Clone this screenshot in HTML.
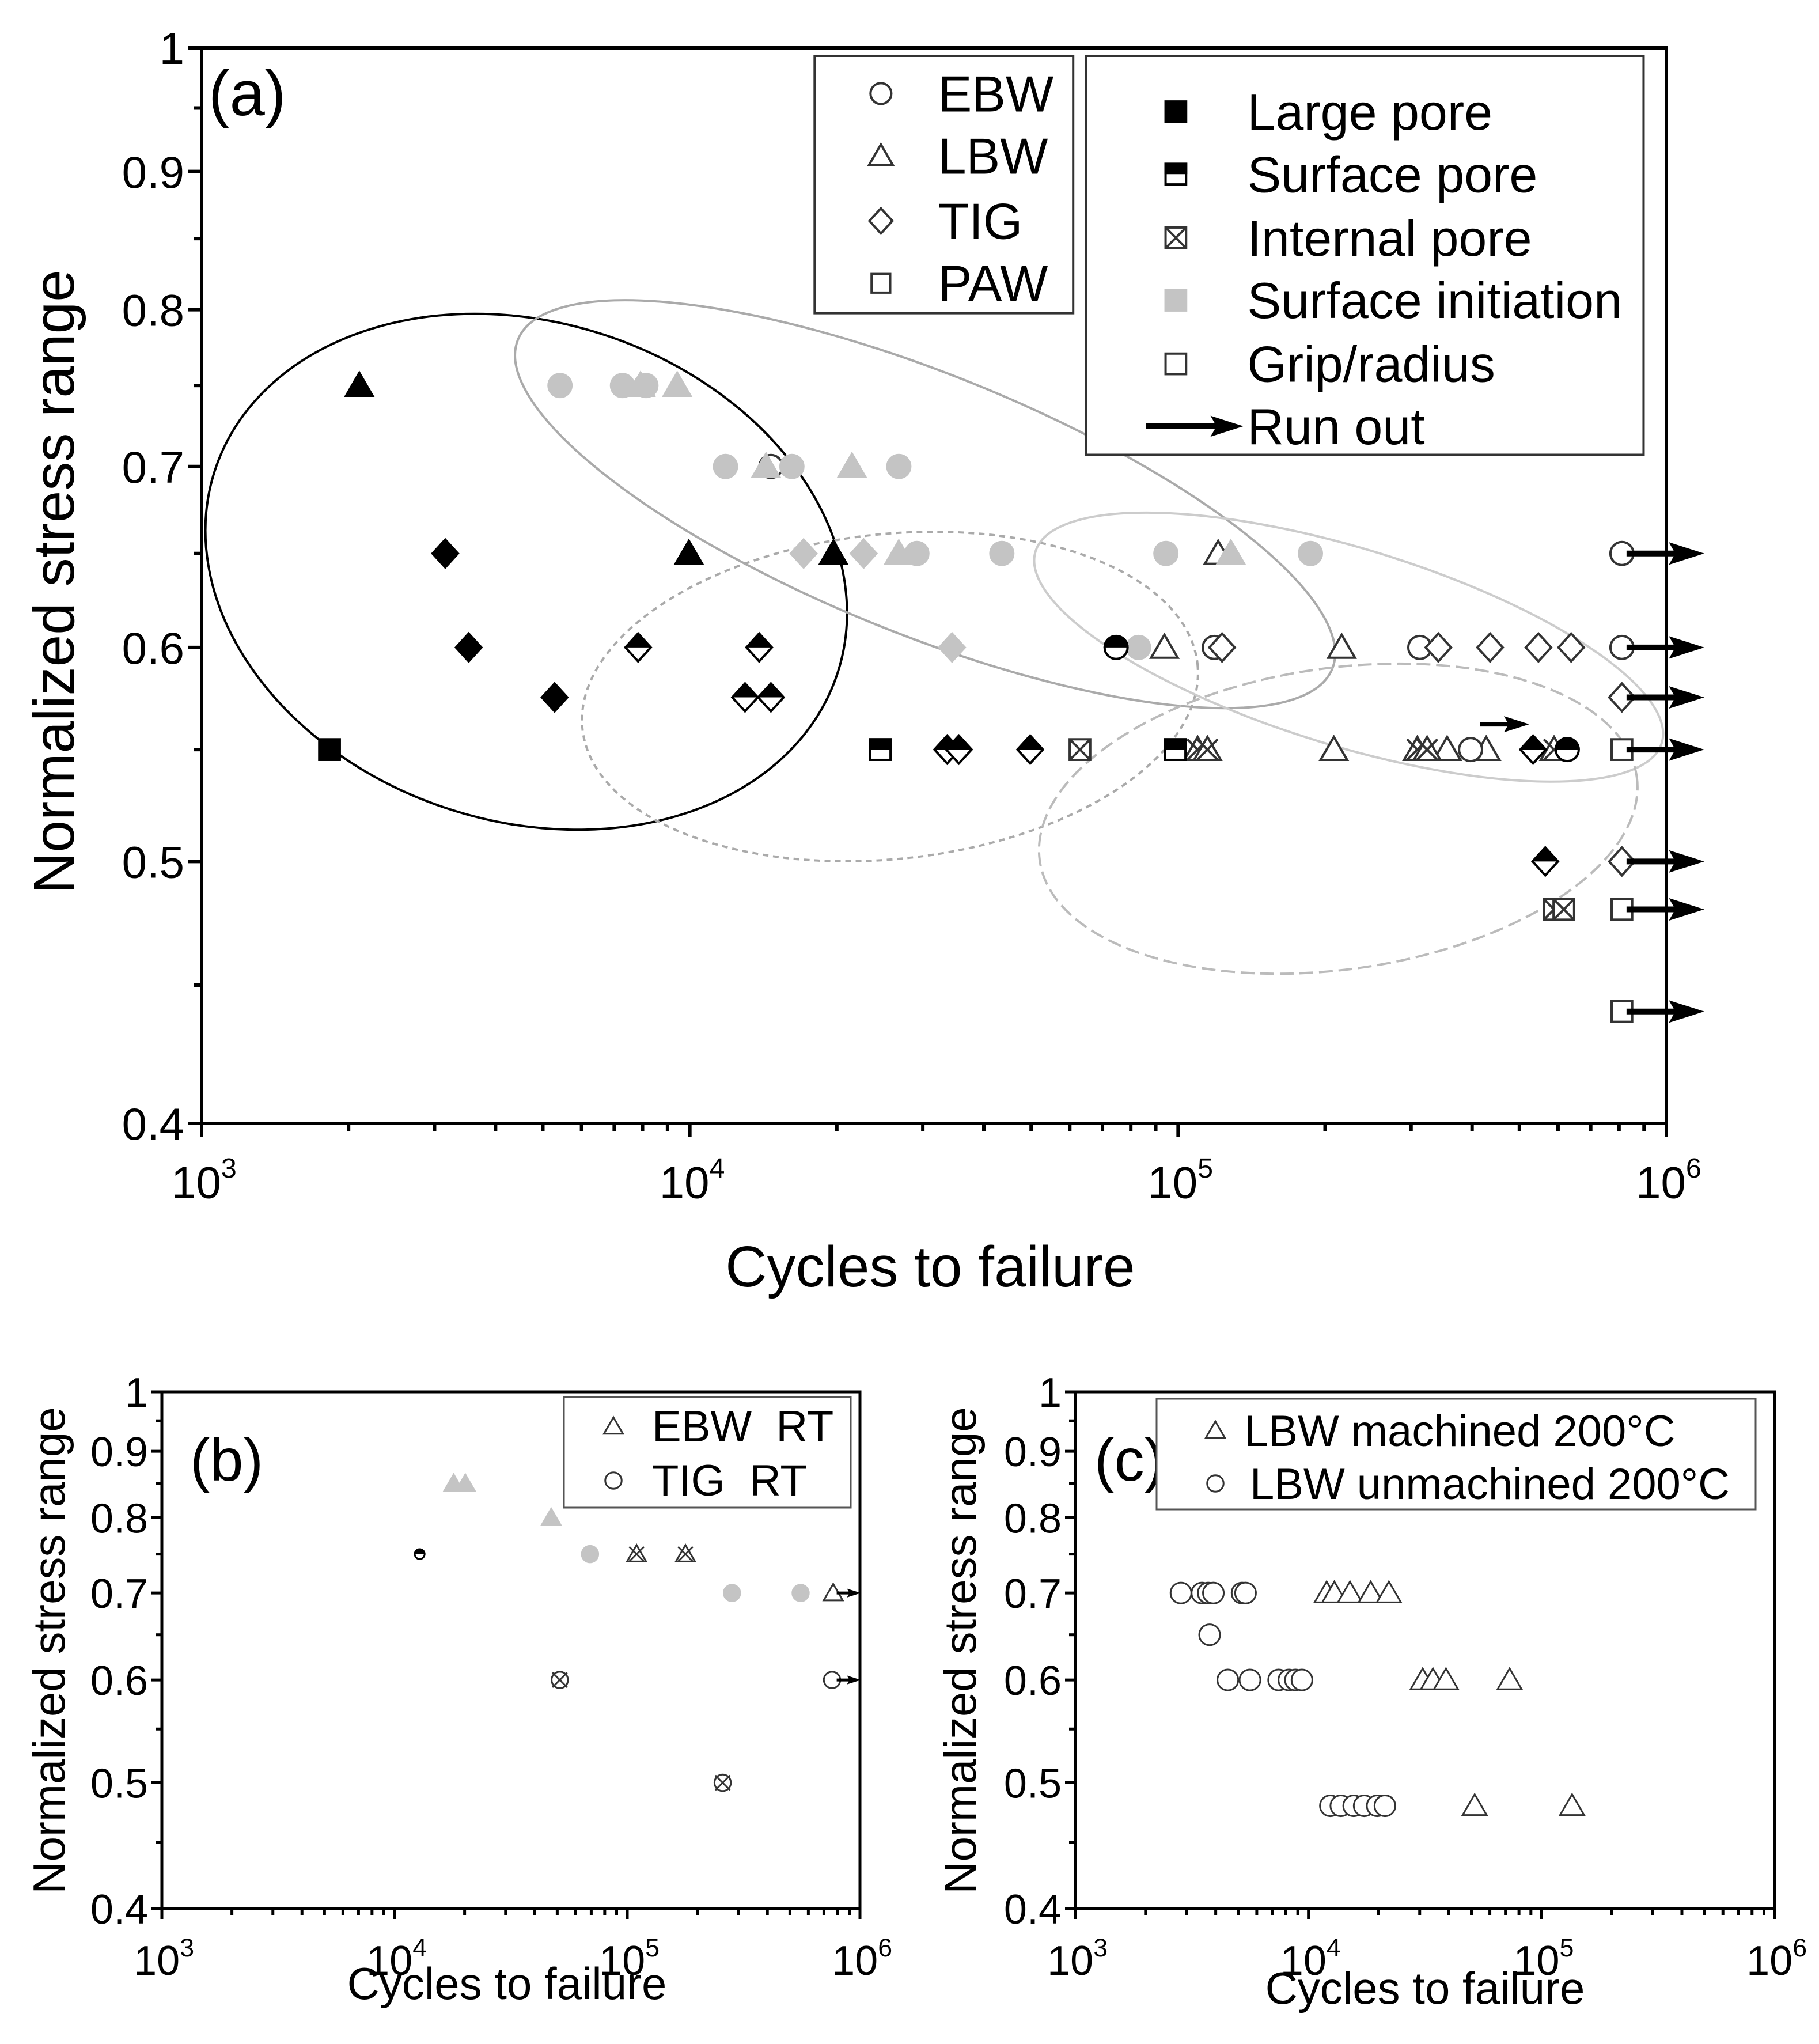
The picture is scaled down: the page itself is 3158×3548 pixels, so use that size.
<!DOCTYPE html>
<html><head><meta charset="utf-8"><style>
html,body{margin:0;padding:0;background:#fff}
svg{display:block}
text{font-family:"Liberation Sans",Arial,sans-serif;fill:#000}
</style></head><body>
<svg id="fig" width="3158" height="3548" viewBox="0 0 3158 3548" xmlns="http://www.w3.org/2000/svg">
<g id="ga"></g>
<g id="gb"></g>
<g id="gc"></g>
</svg>
<script>
// ---- Panel (a) data: [log10(N), stress, shape] ----
const aLargePore = [[3.323,0.75,'tri'],[3.499,0.65,'dia'],[3.547,0.6,'dia'],[3.723,0.575,'dia'],[3.262,0.55,'sq'],[3.998,0.65,'tri'],[4.294,0.65,'tri']];
const aSurfacePore = [[3.894,0.6,'dia'],[4.142,0.6,'dia'],[4.113,0.575,'dia'],[4.166,0.575,'dia'],[4.39,0.55,'sq'],[4.527,0.55,'dia'],[4.551,0.55,'dia'],[4.697,0.55,'dia'],[4.994,0.55,'sq'],[4.873,0.6,'circ'],[5.727,0.55,'dia'],[5.752,0.5,'dia'],[5.797,0.55,'circ']];
const aInternalPore = [[4.799,0.55,'sq'],[5.04,0.55,'tri'],[5.06,0.55,'tri'],[5.49,0.55,'tri'],[5.51,0.55,'tri'],[5.77,0.55,'tri'],[5.77,0.48,'sq'],[5.79,0.48,'sq']];
const aSurfaceInit = [[3.734,0.75,'circ'],[3.862,0.75,'circ'],[3.91,0.75,'circ'],[3.899,0.75,'tri'],[3.974,0.75,'tri'],[4.073,0.7,'circ'],[4.209,0.7,'circ'],[4.428,0.7,'circ'],[4.156,0.7,'tri'],[4.332,0.7,'tri'],[4.233,0.65,'dia'],[4.356,0.65,'dia'],[4.428,0.65,'tri'],[4.465,0.65,'circ'],[4.639,0.65,'circ'],[4.975,0.65,'circ'],[5.271,0.65,'circ'],[5.108,0.65,'tri'],[4.537,0.6,'dia'],[4.919,0.6,'circ']];
const aGrip = [[4.166,0.7,'circ'],[5.082,0.65,'tri'],[4.972,0.6,'tri'],[5.074,0.6,'circ'],[5.09,0.6,'dia'],[5.335,0.6,'tri'],[5.495,0.6,'circ'],[5.533,0.6,'dia'],[5.639,0.6,'dia'],[5.738,0.6,'dia'],[5.805,0.6,'dia'],[5.909,0.6,'circ'],[5.909,0.65,'circ'],[5.319,0.55,'tri'],[5.551,0.55,'tri'],[5.631,0.55,'tri'],[5.599,0.55,'circ'],[5.909,0.575,'dia'],[5.909,0.55,'sq'],[5.909,0.5,'dia'],[5.909,0.48,'sq'],[5.909,0.44,'sq']];
const aRunout = [0.65,0.6,0.575,0.55,0.5,0.48,0.44];
const yTicks = [0.4,0.5,0.6,0.7,0.8,0.9,1];
const yTickLabels = ['0.4','0.5','0.6','0.7','0.8','0.9','1'];
const yMinor = [0.45,0.55,0.65,0.75,0.85,0.95];
const xDecades = [3,4,5,6];
// ---- Panel (b) data ----
const bHalf = [[4.108,0.75,'circ']];
const bGrey = [[4.254,0.85,'tri'],[4.304,0.85,'tri'],[4.673,0.8,'tri'],[4.84,0.75,'circ'],[5.45,0.7,'circ'],[5.745,0.7,'circ']];
const bCross = [[5.04,0.75,'tri'],[5.25,0.75,'tri'],[4.71,0.6,'circ'],[5.41,0.5,'circ']];
const bOpen = [[5.885,0.7,'tri'],[5.88,0.6,'circ']];
const bRunout = [0.7,0.6];
// ---- Panel (c) data ----
const cCircles = [[3.453,0.7],[3.543,0.7],[3.57,0.7],[3.592,0.7],[3.715,0.7],[3.73,0.7],[3.576,0.65],[3.654,0.6],[3.749,0.6],[3.872,0.6],[3.916,0.6],[3.944,0.6],[3.972,0.6],[4.094,0.48],[4.139,0.48],[4.194,0.48],[4.239,0.48],[4.295,0.48],[4.328,0.48]];
const cTriangles = [[4.078,0.7],[4.111,0.7],[4.178,0.7],[4.267,0.7],[4.345,0.7],[4.49,0.6],[4.534,0.6],[4.59,0.6],[4.863,0.6],[4.713,0.48],[5.131,0.48]];

const NS='http://www.w3.org/2000/svg';
let clipId=0;
function el(parent,tag,attrs,txt){const e=document.createElementNS(NS,tag);for(const k in attrs)e.setAttribute(k,attrs[k]);if(txt!==undefined)e.textContent=txt;parent.appendChild(e);return e;}
function makeAxes(x0,x1,y0,y1){
  return {x:v=>x0+(v-3)/3*(x1-x0), y:s=>y1-Math.log10(s/0.4)/Math.log10(2.5)*(y1-y0)};
}
function shapeEl(g,shape,cx,cy,r,fill,stroke,sw){
  let e;
  if(shape==='circ') e=el(g,'circle',{cx:cx,cy:cy,r:r*0.95});
  else if(shape==='sq') e=el(g,'rect',{x:cx-r*0.85,y:cy-r*0.85,width:r*1.7,height:r*1.7});
  else if(shape==='tri') e=el(g,'polygon',{points:`${cx},${cy-r*1.05} ${cx+r*1.1},${cy+r*0.85} ${cx-r*1.1},${cy+r*0.85}`});
  else e=el(g,'polygon',{points:`${cx},${cy-r*1.15} ${cx+r*1.05},${cy} ${cx},${cy+r*1.15} ${cx-r*1.05},${cy}`});
  e.setAttribute('fill',fill);e.setAttribute('stroke',stroke);e.setAttribute('stroke-width',sw);
  return e;
}
function marker(g,shape,style,cx,cy,r,sw){
  const m=el(g,'g',{});
  
  
  if(style==='black') shapeEl(m,shape,cx,cy,r,'#000','#000',sw);
  else if(style==='grey') shapeEl(m,shape,cx,cy,r,'#c4c4c4','#c4c4c4',sw);
  else if(style==='open') shapeEl(m,shape,cx,cy,r,'#fff','#333',sw);
  else if(style==='half'){
    shapeEl(m,shape,cx,cy,r,'#fff','#000',sw);
    const id='cp'+(clipId++);
    const cp=el(m,'clipPath',{id:id});el(cp,'rect',{x:cx-2*r,y:cy-2*r,width:4*r,height:2*r});
    const t=shapeEl(m,shape,cx,cy,r,'#000','#000',sw);t.setAttribute('clip-path',`url(#${id})`);
  } else if(style==='cross'){
    shapeEl(m,shape,cx,cy,r,'#fff','#333',sw);
    const d=r*0.85;
    el(m,'line',{x1:cx-d,y1:cy-d,x2:cx+d,y2:cy+d,stroke:'#333','stroke-width':sw});
    el(m,'line',{x1:cx+d,y1:cy-d,x2:cx-d,y2:cy+d,stroke:'#333','stroke-width':sw});
  }
  return m;
}
function arrow(g,x,y,len,h,sw){
  const a=el(g,'g',{});
  
  
  el(a,'line',{x1:x,y1:y,x2:x+len-h*1.5,y2:y,stroke:'#000','stroke-width':sw});
  el(a,'polygon',{points:`${x+len-h*2.2},${y-h*0.7} ${x+len},${y} ${x+len-h*2.2},${y+h*0.7} ${x+len-h*1.8},${y}`,fill:'#000'});
}
function frame(g,x0,x1,y0,y1,o){
  const A=makeAxes(x0,x1,y0,y1);
  const f=el(g,'rect',{x:x0,y:y0,width:x1-x0,height:y1-y0,fill:'none',stroke:'#000','stroke-width':o.sw});
  
  
  yTicks.forEach((t,i)=>{const y=A.y(t);
    el(g,'line',{x1:x0-o.maj,y1:y,x2:x0,y2:y,stroke:'#000','stroke-width':o.sw});
    const tl=el(g,'text',{x:x0-o.maj-6,y:y+o.tf*0.36,'font-size':o.tf,'text-anchor':'end'},yTickLabels[i]);
    
    
  });
  yMinor.forEach(t=>{const y=A.y(t);el(g,'line',{x1:x0-o.min,y1:y,x2:x0,y2:y,stroke:'#000','stroke-width':o.sw});});
  xDecades.forEach(d=>{const x=A.x(d);
    el(g,'line',{x1:x,y1:y1,x2:x,y2:y1+o.maj,stroke:'#000','stroke-width':o.sw});
    const t=el(g,'text',{x:x+o.tf*0.05,y:y1+o.maj+o.tf*1.35,'font-size':o.tf,'text-anchor':'middle'});
    
    
    el(t,'tspan',{},'10');el(t,'tspan',{dy:-o.tf*0.45,'font-size':o.tf*0.62},String(d));
    if(d<6) for(let k=2;k<=9;k++){const xm=A.x(d+Math.log10(k));el(g,'line',{x1:xm,y1:y1,x2:xm,y2:y1+o.min,stroke:'#000','stroke-width':o.sw});}
  });
  return A;
}
function plotSet(g,A,arr,style,r,sw){arr.forEach(p=>marker(g,p[2],style,A.x(p[0]),A.y(p[1]),r,sw));}

// ===== Panel A =====
const ga=document.getElementById('ga');
const S=2.2557;
const ells=[[405,440,252,192,18,'#000','none',3],[712,388,338,100,22,'#aaa','none',3],[685,536,238,125,-6,'#aaa','10 8',3],[1038,498,252,76,17,'#ccc','none',3],[1030,630,232,116,-8,'#bbb','24 10',3]];
ells.forEach(e=>{const E=el(ga,'ellipse',{cx:e[0]*S,cy:e[1]*S,rx:e[2]*S,ry:e[3]*S,transform:`rotate(${e[4]} ${e[0]*S} ${e[1]*S})`,fill:'none',stroke:e[5],'stroke-width':4,'stroke-dasharray':e[6]});
  });
const Aa=frame(ga,350,2893,83,1950,{sw:6,maj:24,min:14,tf:78});
plotSet(ga,Aa,aGrip,'open',21,4);
plotSet(ga,Aa,aSurfaceInit,'grey',21,4);
plotSet(ga,Aa,aInternalPore,'cross',21,4);
plotSet(ga,Aa,aSurfacePore,'half',21,4);
plotSet(ga,Aa,aLargePore,'black',21,4);
aRunout.forEach(s=>arrow(ga,Aa.x(5.909)+8,Aa.y(s),135,28,10));
arrow(ga,2570,Aa.y(0.562),85,20,8);
let t;
t=el(ga,'text',{x:362,y:200,'font-size':110},'(a)');
t=el(ga,'text',{x:0,y:0,'font-size':100,'text-anchor':'middle',transform:'translate(128,1010) rotate(-90)'},'Normalized stress range');
t=el(ga,'text',{x:1615,y:2233,'font-size':100,'text-anchor':'middle'},'Cycles to failure');
let L=el(ga,'rect',{x:627*S,y:43*S,width:199*S,height:198*S,fill:'#fff',stroke:'#333','stroke-width':4});
[['circ','EBW',72],['tri','LBW',120],['dia','TIG',170],['sq','PAW',218]].forEach(e=>{marker(ga,e[0],'open',678*S,e[2]*S,19,4);
  const tt=el(ga,'text',{x:722*S,y:e[2]*S+31,'font-size':88},e[1]);});
L=el(ga,'rect',{x:836*S,y:43*S,width:429*S,height:307*S,fill:'#fff',stroke:'#333','stroke-width':4});
[['black','Large pore',86],['half','Surface pore',134],['cross','Internal pore',183],['grey','Surface initiation',231],['open','Grip/radius',280]].forEach(e=>{marker(ga,'sq',e[0],905*S,e[2]*S,21,4);
  const tt=el(ga,'text',{x:960*S,y:e[2]*S+31,'font-size':88},e[1]);});
arrow(ga,882*S,328*S,75*S,26,10);
t=el(ga,'text',{x:960*S,y:328*S+31,'font-size':88},'Run out');

// ===== Panel B =====
const gb=document.getElementById('gb');
const Ab=frame(gb,281,1493,2416,3313,{sw:5,maj:18,min:11,tf:72});
plotSet(gb,Ab,bGrey,'grey',15,3);
plotSet(gb,Ab,bCross,'cross',15,3);
plotSet(gb,Ab,bOpen,'open',15,3);
plotSet(gb,Ab,bHalf,'half',9,3);
bRunout.forEach(s=>arrow(gb,Ab.x(5.9),Ab.y(s),42,11,5));
t=el(gb,'text',{x:330,y:2570,'font-size':104},'(b)');
t=el(gb,'text',{x:0,y:0,'font-size':78,'text-anchor':'middle',transform:'translate(112,2865) rotate(-90)'},'Normalized stress range');
t=el(gb,'text',{x:880,y:3470,'font-size':78,'text-anchor':'middle'},'Cycles to failure');
L=el(gb,'rect',{x:979,y:2425,width:498,height:192,fill:'#fff',stroke:'#555','stroke-width':3});
marker(gb,'tri','open',1065,2476,15,3);marker(gb,'circ','open',1065,2570,15,3);
t=el(gb,'text',{x:1132,y:2502,'font-size':76},'EBW\u00a0\u00a0RT');
t=el(gb,'text',{x:1132,y:2596,'font-size':76},'TIG\u00a0\u00a0RT');

// ===== Panel C =====
const gc=document.getElementById('gc');
const Ac=frame(gc,1867,3081,2416,3313,{sw:5,maj:18,min:11,tf:72});
cCircles.forEach(p=>marker(gc,'circ','open',Ac.x(p[0]),Ac.y(p[1]),19,3));
cTriangles.forEach(p=>marker(gc,'tri','open',Ac.x(p[0]),Ac.y(p[1]),19,3));
t=el(gc,'text',{x:1900,y:2570,'font-size':104},'(c)');
t=el(gc,'text',{x:0,y:0,'font-size':78,'text-anchor':'middle',transform:'translate(1694,2865) rotate(-90)'},'Normalized stress range');
t=el(gc,'text',{x:2474,y:3478,'font-size':78,'text-anchor':'middle'},'Cycles to failure');
L=el(gc,'rect',{x:2008,y:2428,width:1040,height:192,fill:'#fff',stroke:'#555','stroke-width':3});
marker(gc,'tri','open',2110,2483,15,3);marker(gc,'circ','open',2110,2575,15,3);
t=el(gc,'text',{x:2160,y:2510,'font-size':76},'LBW machined 200°C');
t=el(gc,'text',{x:2170,y:2602,'font-size':76},'LBW unmachined 200°C');
</script>
</body></html>
